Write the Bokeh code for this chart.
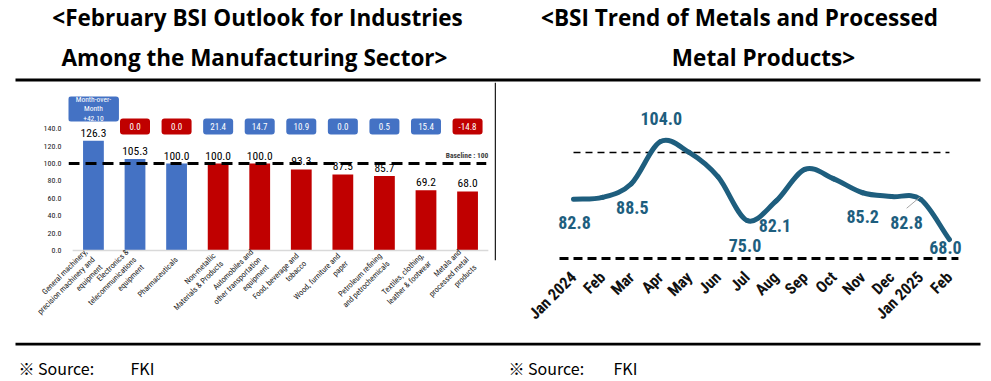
import math
import numpy as np
from bokeh.plotting import figure
from bokeh.layouts import column, row
from bokeh.models import Range1d, FixedTicker, NumeralTickFormatter
from bokeh.core.properties import value
from bokeh.embed import file_html
from bokeh.resources import INLINE

# ---------------- data ----------------
title_left = ["<February BSI Outlook for Industries", "Among the Manufacturing Sector>"]
title_right = ["<BSI Trend of Metals and Processed", "Metal Products>"]
source_label = "※ Source:"
source_name = "FKI"

industries = [
    "General machinery,\nprecision machinery and\nequipment",
    "Electronics &\ntelecommunications\nequipment",
    "Pharmaceuticals",
    "Non-metallic\nMaterials & Products",
    "Automobiles and\nother transportation\nequipment",
    "Food, beverage and\ntobacco",
    "Wood, furniture and\npaper",
    "Petroleum refining\nand petrochemicals",
    "Textiles, clothing,\nleather & footwear",
    "Metals and\nprocessed metal\nproducts",
]
feb_bsi = [126.3, 105.3, 100.0, 100.0, 100.0, 93.3, 87.5, 85.7, 69.2, 68.0]
mom_change = ["Month-over-\nMonth\n+42.10", "0.0", "0.0", "21.4", "14.7",
              "10.9", "0.0", "0.5", "15.4", "-14.8"]
baseline = 100
baseline_text = "Baseline : 100"
left_ticks = [0, 20, 40, 60, 80, 100, 120, 140]

months = ["Jan 2024", "Feb", "Mar", "Apr", "May", "Jun", "Jul", "Aug",
          "Sep", "Oct", "Nov", "Dec", "Jan 2025", "Feb"]
metals_bsi = [82.8, 83.5, 88.5, 104.0, 100.0, 91.0, 75.0, 82.1,
              93.8, 90.3, 85.2, 83.8, 82.8, 68.0]
labeled_months = [0, 2, 3, 6, 7, 10, 12, 13]
trend_floor = 61.0  # lower dashed reference line of the trend chart

# ---------------- style ----------------
BLUE = "#4472C4"
RED = "#C00000"
TEAL = "#1E5E7E"
bar_colors = [BLUE, BLUE, BLUE, RED, RED, RED, RED, RED, RED, RED]
box_colors = [BLUE, RED, RED, BLUE, BLUE, BLUE, BLUE, BLUE, BLUE, RED]
NARROW = "Roboto Condensed, Roboto, sans-serif"
TITLE_FONT = "Open Sans"
SRC_FONT = "Noto Sans CJK KR"
# label offsets (screen px) for the trend chart: index -> (dx, dy), dy>0 = down
label_offsets = {0: (1, 23), 2: (1, 24), 3: (1, -23), 6: (-2, 25), 7: (-1, 24),
                 10: (0, 24), 12: (-14, 23), 13: (-4, 8)}

W = 991
H_HEAD, H_MID, H_FOOT = 82, 260, 39
W_LEFT, W_DIV, W_RIGHT = 494, 2, 495


def base_fig(**kw):
    p = figure(toolbar_location=None, output_backend="svg",
               outline_line_color=None, background_fill_color="white",
               border_fill_color="white", **kw)
    p.grid.visible = False
    return p


# ---------------- header ----------------
head = base_fig(width=W, height=H_HEAD, x_range=Range1d(0, W), y_range=Range1d(H_HEAD, 0),
                x_axis_location=None, y_axis_location=None, min_border=0)
head.text(x=[257, 739], y=[17, 17], text=[title_left[0], title_right[0]],
          text_font=value(TITLE_FONT), text_font_style="bold", text_font_size="22.5px",
          text_align="center", text_baseline="middle", text_color="black")
head.text(x=[254, 763], y=[57, 57], text=[title_left[1], title_right[1]],
          text_font=value(TITLE_FONT), text_font_style="bold", text_font_size="22.5px",
          text_align="center", text_baseline="middle", text_color="black")
head.segment(x0=[15], y0=[79.5], x1=[980], y1=[79.5], line_color="black", line_width=3)

# ---------------- left chart ----------------
idx = np.arange(len(industries))
pl = base_fig(width=W_LEFT, height=H_MID, x_range=Range1d(-0.6, 9.6), y_range=Range1d(-11.5, 193.3),
              min_border_left=68, min_border_right=2, min_border_top=0, min_border_bottom=82)
pl.vbar(x=idx, top=feb_bsi, width=0.5, fill_color=bar_colors, line_color=None)
pl.segment(x0=[idx[0] - 0.5], y0=[0], x1=[idx[-1] + 0.5], y1=[0], line_color="#D9D9D9", line_width=1.5)
pl.segment(x0=[idx[0] - 0.6], y0=[baseline], x1=[idx[-1] + 0.45], y1=[baseline],
           line_color="black", line_width=3, line_dash="11 6")
pl.text(x=idx, y=feb_bsi, text=[f"{v:.1f}" for v in feb_bsi], y_offset=-8,
        text_font=value(NARROW), text_font_size="11.5px", text_align="center",
        text_baseline="middle", text_color="black")
pl.text(x=[idx[-1] + 0.5], y=[baseline], text=[baseline_text], y_offset=-8,
        text_font=value(NARROW), text_font_style="bold", text_font_size="7.5px",
        text_align="right", text_baseline="middle", text_color="#404040")
BOX_Y, BOX_Y_FIRST = 142.6, 162.8
r = pl.rect(x=idx[1:], y=BOX_Y, width=30, height=16, width_units="screen", height_units="screen",
            fill_color=box_colors[1:], line_color=None)
r0 = pl.rect(x=idx[:1], y=BOX_Y_FIRST, width=51, height=25, width_units="screen", height_units="screen",
             fill_color=box_colors[:1], line_color=None)
for rr in (r, r0):
    try:
        rr.glyph.border_radius = 3
    except Exception:
        pass
pl.text(x=idx[1:], y=BOX_Y, text=mom_change[1:], text_font=value(NARROW), text_font_size="9px",
        text_align="center", text_baseline="middle", text_color="white")
pl.text(x=idx[:1], y=BOX_Y_FIRST, text=mom_change[:1], text_font=value(NARROW), text_font_size="7.5px",
        text_align="center", text_baseline="middle", text_color="white", text_line_height=1.05)

pl.yaxis.ticker = FixedTicker(ticks=left_ticks)
pl.yaxis.formatter = NumeralTickFormatter(format="0.0")
pl.xaxis.ticker = FixedTicker(ticks=[int(i) for i in idx])
pl.xaxis.major_label_overrides = {int(i): lab for i, lab in zip(idx, industries)}
pl.xaxis.major_label_orientation = math.pi / 4
for ax in (pl.xaxis, pl.yaxis):
    ax.axis_line_color = None
    ax.major_tick_line_color = None
    ax.minor_tick_line_color = None
    ax.major_label_text_font = NARROW
    ax.major_label_text_color = "#1a1a1a"
pl.yaxis.major_label_text_font_size = "8px"
pl.yaxis.major_label_standoff = 1
pl.xaxis.major_label_text_font_size = "8px"
pl.xaxis.major_label_standoff = -8

# ---------------- divider ----------------
div = base_fig(width=W_DIV, height=H_MID, x_range=Range1d(0, 1), y_range=Range1d(0, 1),
               x_axis_location=None, y_axis_location=None, min_border=0)
div.quad(left=[0], right=[1], bottom=[0], top=[1], fill_color="#222222", line_color=None)

# ---------------- right chart ----------------
mx = np.arange(len(months)).astype(float)
my = np.array(metals_bsi)
pr = base_fig(width=W_RIGHT, height=H_MID, x_range=Range1d(-2.6625, 14.454), y_range=Range1d(60.29, 125.73),
              y_axis_location=None, min_border_left=0, min_border_right=0,
              min_border_top=0, min_border_bottom=82)
pr.segment(x0=[mx[0]], y0=[baseline], x1=[mx[-1]], y1=[baseline],
           line_color="black", line_width=1.5, line_dash="7 5")
pr.segment(x0=[mx[0] - 0.484], y0=[trend_floor], x1=[mx[-1] + 0.31], y1=[trend_floor],
           line_color="black", line_width=3, line_dash="9 5")
# smoothed line (Catmull-Rom as cubic Bezier segments through the data points)
tx = np.gradient(mx)
ty = np.gradient(my)
pr.bezier(x0=mx[:-1], y0=my[:-1], x1=mx[1:], y1=my[1:],
          cx0=mx[:-1] + tx[:-1] / 3, cy0=my[:-1] + ty[:-1] / 3,
          cx1=mx[1:] - tx[1:] / 3, cy1=my[1:] - ty[1:] / 3,
          line_color=TEAL, line_width=5, line_cap="round")
# leader line for Jan 2025
j = 12
pr.segment(x0=[mx[j] - 0.48], y0=[my[j] - 3.3], x1=[mx[j] - 0.03], y1=[my[j] + 0.7],
           line_color="#A6A6A6", line_width=1)
for i in labeled_months:
    dx, dy = label_offsets[i]
    pr.text(x=[mx[i]], y=[my[i]], text=[f"{metals_bsi[i]:.1f}"], x_offset=dx, y_offset=dy,
            text_font=value(NARROW), text_font_style="bold", text_font_size="18px",
            text_align="center", text_baseline="middle", text_color=TEAL)
pr.xaxis.ticker = FixedTicker(ticks=[int(i) for i in mx])
pr.xaxis.major_label_overrides = {int(i): lab for i, lab in zip(mx, months)}
pr.xaxis.major_label_orientation = math.pi / 4
pr.xaxis.axis_line_color = None
pr.xaxis.major_tick_line_color = None
pr.xaxis.minor_tick_line_color = None
pr.xaxis.major_label_text_font = NARROW
pr.xaxis.major_label_text_font_style = "bold"
pr.xaxis.major_label_text_font_size = "16px"
pr.xaxis.major_label_text_color = "#111111"
pr.xaxis.major_label_standoff = 8

# ---------------- footer ----------------
foot = base_fig(width=W, height=H_FOOT, x_range=Range1d(0, W), y_range=Range1d(H_HEAD + H_MID + H_FOOT, H_HEAD + H_MID),
                x_axis_location=None, y_axis_location=None, min_border=0)
foot.segment(x0=[15], y0=[343.5], x1=[980], y1=[343.5], line_color="black", line_width=3)
foot.text(x=[18, 508], y=[367, 367], text=[source_label, source_label],
          text_font=value(SRC_FONT), text_font_size="16px", text_align="left",
          text_baseline="middle", text_color="black")
foot.text(x=[130, 613], y=[367, 367], text=[source_name, source_name],
          text_font=value(SRC_FONT), text_font_size="16px", text_align="left",
          text_baseline="middle", text_color="black")

layout = column(head, row(pl, div, pr), foot)
open("out.html", "w").write(file_html(layout, INLINE))
